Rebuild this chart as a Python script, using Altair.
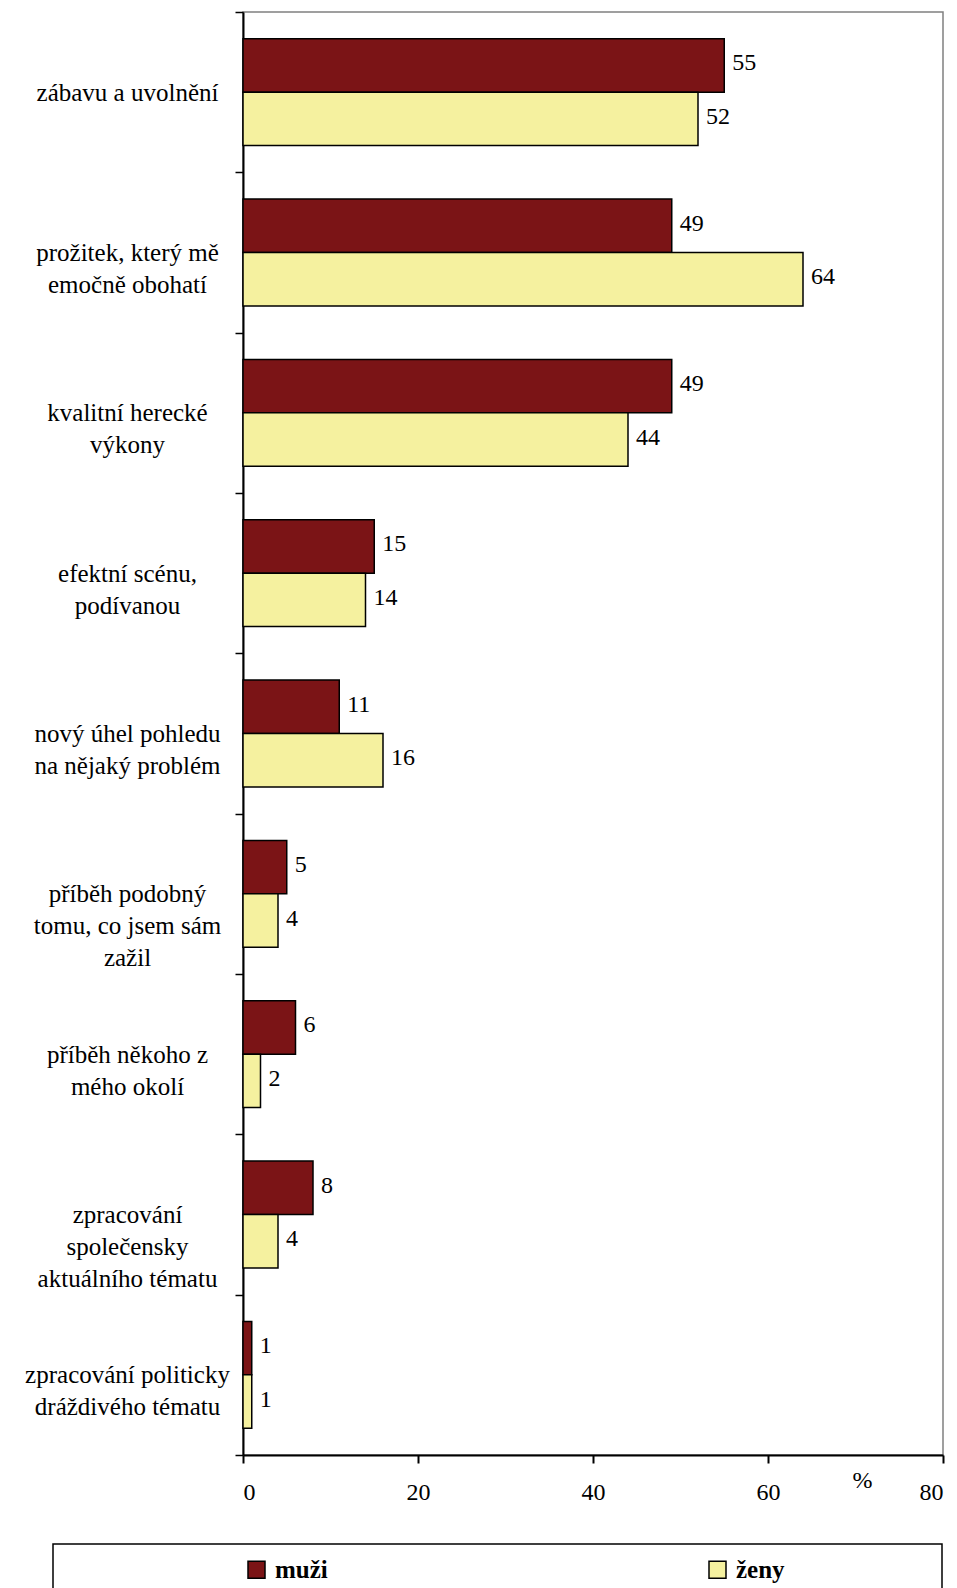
import altair as alt
import pandas as pd

categories = [
    "zábavu a uvolnění",
    "prožitek, který mě|emočně obohatí",
    "kvalitní herecké|výkony",
    "efektní scénu,|podívanou",
    "nový úhel pohledu|na nějaký problém",
    "příběh podobný|tomu, co jsem sám|zažil",
    "příběh někoho z|mého okolí",
    "zpracování|společensky|aktuálního tématu",
    "zpracování politicky|dráždivého tématu",
]
series = ["muži", "ženy"]
muzi = [55, 49, 49, 15, 11, 5, 6, 8, 1]
zeny = [52, 64, 44, 14, 16, 4, 2, 4, 1]
x_ticks = [0, 20, 40, 60, 80]
colors = ["#7B1416", "#F5F19F"]

rows = []
for c, m, z in zip(categories, muzi, zeny):
    rows.append({"kat": c, "pohlavi": "muži", "hodnota": m})
    rows.append({"kat": c, "pohlavi": "ženy", "hodnota": z})
df = pd.DataFrame(rows)

FONT = "Liberation Serif, Times New Roman, serif"

y_enc = alt.Y(
    "kat:N",
    sort=categories,
    scale=alt.Scale(domain=categories, paddingInner=0, paddingOuter=0),
    axis=alt.Axis(
        title=None,
        labelExpr="split(datum.label, '|')",
        labelAlign="center",
        labelBaseline="middle",
        labelPadding=108,
        labelFontSize=25,
        labelLineHeight=32,
        labelLimit=0,
        labelFont=FONT,
        labelColor="black",
        tickBand="extent",
        tickSize=8,
        tickWidth=1.5,
        tickColor="black",
        domainColor="black",
        domainWidth=2,
        grid=False,
    ),
)
yoff = alt.YOffset(
    "pohlavi:N",
    sort=series,
    scale=alt.Scale(domain=series, paddingInner=0, paddingOuter=0.5),
)
x_enc = alt.X(
    "hodnota:Q",
    scale=alt.Scale(domain=[0, 80], nice=False),
    axis=alt.Axis(
        values=x_ticks,
        title="%",
        titleX=619,
        titleY=25,
        titleBaseline="middle",
        titleAlign="center",
        titleFontSize=24,
        titleFontWeight="normal",
        titleFont=FONT,
        titleColor="black",
        labelFontSize=24,
        labelFont=FONT,
        labelColor="black",
        labelPadding=17,
        tickSize=8,
        tickWidth=2,
        tickColor="black",
        domainColor="black",
        domainWidth=2,
        grid=False,
    ),
)

bars = alt.Chart(df).mark_bar(stroke="black", strokeWidth=1.5).encode(
    x=x_enc,
    y=y_enc,
    yOffset=yoff,
    color=alt.Color(
        "pohlavi:N",
        sort=series,
        scale=alt.Scale(domain=series, range=colors),
        legend=alt.Legend(
            title=None,
            orient="none",
            legendX=1,
            legendY=1545,
            direction="horizontal",
            columns=2,
            columnPadding=377,
            symbolType="square",
            symbolSize=289,
            symbolStrokeColor="black",
            symbolStrokeWidth=1.5,
            symbolOpacity=1,
            labelFontSize=25,
            labelFontWeight="bold",
            labelFont=FONT,
            labelColor="black",
            labelOffset=6,
            padding=0,
        ),
    ),
)

labels = alt.Chart(df).mark_text(
    align="left", baseline="middle", dx=8, dy=-2, fontSize=24, font=FONT, color="black"
).encode(
    x="hodnota:Q",
    y=alt.Y("kat:N", sort=categories),
    yOffset=alt.YOffset("pohlavi:N", sort=series),
    text="hodnota:Q",
)

frame = alt.Chart(pd.DataFrame({"a": [0]})).mark_rect(
    fill=None, fillOpacity=0, stroke="black", strokeWidth=1.5
).encode(
    x=alt.value(-190),
    x2=alt.value(699),
    y=alt.value(1532),
    y2=alt.value(1620),
)

chart = (
    alt.layer(bars, labels, frame)
    .properties(
        width=700,
        height=1443,
        autosize=alt.AutoSizeParams(type="none"),
        padding={"left": 243, "top": 12, "right": 14, "bottom": 133},
        background="white",
    )
    .configure_view(stroke="#808080", strokeWidth=1.5)
)

chart.save("out.html", embed_options={"renderer": "svg", "actions": False})
